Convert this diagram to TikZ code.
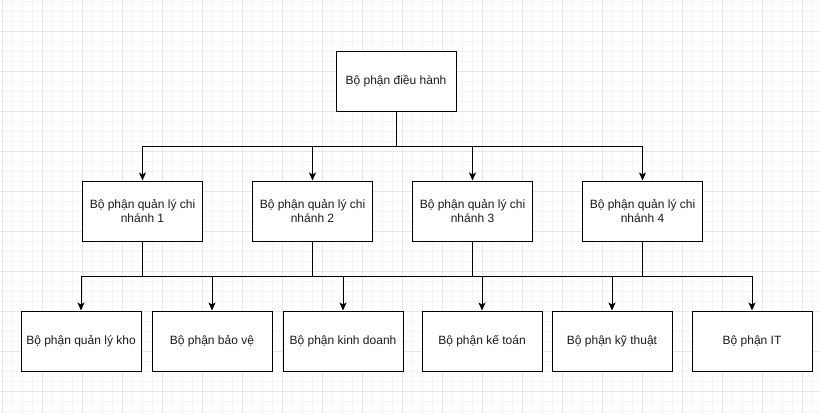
\documentclass[tikz,border=0pt]{standalone}
\usepackage{fontspec}
\setmainfont{Liberation Sans}
\usetikzlibrary{arrows.meta}
\definecolor{gridminor}{HTML}{F4F4F4}
\definecolor{gridmajor}{HTML}{E6E6E6}
\definecolor{txt}{HTML}{1A1A1A}
\begin{document}
\begin{tikzpicture}[x=1pt,y=-1pt,
  box/.style={draw=black, line width=1pt, fill=white, minimum width=120pt, minimum height=60pt, inner sep=0pt, align=center, font=\fontsize{12}{14}\selectfont, text=txt},
  conn/.style={line width=1pt, draw=black, line cap=rect},
  arr/.style={line width=1pt, draw=black, -{Stealth[length=8pt,width=7pt,inset=2pt]}}]
\fill[white] (0,0) rectangle (819,413);
\useasboundingbox (0,0) rectangle (819,413);
\foreach \x in {2,12,...,812} \draw[gridminor, line width=1pt] (\x,0) -- (\x,413);
\foreach \y in {1,11,...,411} \draw[gridminor, line width=1pt] (0,\y) -- (819,\y);
\foreach \x in {2,42,...,802} \draw[gridmajor, line width=1pt] (\x,0) -- (\x,413);
\foreach \y in {31,71,...,391} \draw[gridmajor, line width=1pt] (0,\y) -- (819,\y);

\node[box] (root) at (396,81) {Bộ phận điều hành};
\node[box] (b1) at (142.5,211) {Bộ phận quản lý chi\\nhánh 1};
\node[box] (b2) at (312.5,211) {Bộ phận quản lý chi\\nhánh 2};
\node[box] (b3) at (472.5,211) {Bộ phận quản lý chi\\nhánh 3};
\node[box] (b4) at (642.5,211) {Bộ phận quản lý chi\\nhánh 4};
\node[box] (c1) at (81,341) {Bộ phận quản lý kho};
\node[box] (c2) at (212,341) {Bộ phận bảo vệ};
\node[box] (c3) at (343,341) {Bộ phận kinh doanh};
\node[box] (c4) at (482,341) {Bộ phận kế toán};
\node[box] (c5) at (612,341) {Bộ phận kỹ thuật};
\node[box] (c6) at (752,341) {Bộ phận IT};

\coordinate (top) at (0,146);
\coordinate (bus) at (0,276);

\draw[conn] (root.south) -- (root.south |- top);
\draw[conn] (b1.north |- top) -- (b4.north |- top);
\foreach \b in {b1,b2,b3,b4} \draw[arr] (\b.north |- top) -- (\b.north);

\foreach \b in {b1,b2,b3,b4} \draw[conn] (\b.south) -- (\b.south |- bus);
\draw[conn] (c1.north |- bus) -- (c6.north |- bus);
\foreach \c in {c1,c2,c3,c4,c5,c6} \draw[arr] (\c.north |- bus) -- (\c.north);
\end{tikzpicture}
\end{document}
